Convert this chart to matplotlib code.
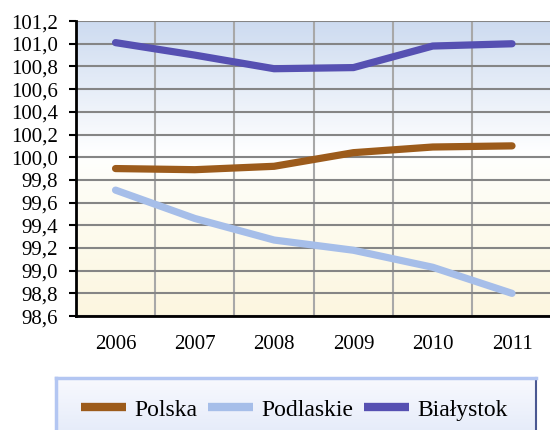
import matplotlib.pyplot as plt
import numpy as np
from matplotlib.colors import LinearSegmentedColormap

years = ['2006', '2007', '2008', '2009', '2010', '2011']
polska = [99.90, 99.89, 99.92, 100.04, 100.09, 100.10]
podlaskie = [99.71, 99.46, 99.27, 99.18, 99.03, 98.80]
bialystok = [101.01, 100.90, 100.78, 100.79, 100.98, 101.00]

plt.rcParams['font.family'] = 'serif'
plt.rcParams['font.serif'] = ['Liberation Serif', 'Times New Roman', 'DejaVu Serif']

fig = plt.figure(figsize=(5.5, 4.3), dpi=100)
ax = fig.add_axes([0.138, 0.265, 0.865, 0.686])

x = np.arange(len(years))
ymin, ymax = 98.6, 101.2

# background gradient: blue top -> white -> light yellow bottom
bg = LinearSegmentedColormap.from_list('bg', [(0.0, '#fcf6df'), (0.45, '#fefdf6'),
                                              (0.55, '#ffffff'), (1.0, '#cddbf0')])
grad = np.linspace(0, 1, 256).reshape(-1, 1)
ax.imshow(grad, cmap=bg, aspect='auto', origin='lower',
          extent=[-0.5, len(years) - 0.5, ymin, ymax], zorder=0)

ax.plot(x, polska, color='#9c5b1b', lw=5.2, solid_capstyle='round', label='Polska', zorder=3)
ax.plot(x, podlaskie, color='#a6bee9', lw=5.2, solid_capstyle='round', label='Podlaskie', zorder=3)
ax.plot(x, bialystok, color='#5650b2', lw=5.2, solid_capstyle='round', label='Białystok', zorder=3)

ax.set_xlim(-0.5, len(years) - 0.5)
ax.set_ylim(ymin, ymax)
ax.set_xticks(x)
ax.set_xticklabels(years)
ax.set_xticks(np.arange(-0.5, len(years), 1), minor=True)
yt = np.round(np.arange(ymin, ymax + 0.01, 0.2), 1)
ax.set_yticks(yt)
ax.set_yticklabels([('%.1f' % v).replace('.', ',') for v in yt])

ax.grid(True, axis='y', which='major', color='#858585', lw=1.5, zorder=1)
ax.grid(True, axis='x', which='minor', color='#a8a8a8', lw=1.5, zorder=1)
ax.tick_params(axis='y', direction='out', length=5, width=1.5, color='black',
               labelsize=15, pad=8)
ax.tick_params(axis='x', which='both', length=0, labelsize=15, pad=14)
for s in ['top', 'right']:
    ax.spines[s].set_visible(False)
for s in ['left', 'bottom']:
    ax.spines[s].set_linewidth(2)
    ax.spines[s].set_zorder(4)

# legend box with gradient
lax = fig.add_axes([0.102, -0.05, 0.872, 0.17])
lg = LinearSegmentedColormap.from_list('lg', ['#dfe7f8', '#f8f9fe'])
lax.imshow(grad, cmap=lg, aspect='auto', origin='lower', extent=[0, 1, 0, 1])
lax.set_xlim(0, 1)
lax.set_ylim(0, 1)
lax.set_xticks([])
lax.set_yticks([])
lax.spines['bottom'].set_visible(False)
for s in ['left', 'top']:
    lax.spines[s].set_color('#b3c6f2')
    lax.spines[s].set_linewidth(2.5)
lax.spines['right'].set_color('#4a5892')
lax.spines['right'].set_linewidth(1.5)

handles, labels = ax.get_legend_handles_labels()
fig.legend(handles, labels, loc='center', bbox_to_anchor=(0.535, 0.047), ncol=3,
           frameon=False, fontsize=17, handlelength=1.9, handletextpad=0.35,
           columnspacing=0.45)
for h in fig.legends[0].get_lines():
    h.set_linewidth(6)
    h.set_solid_capstyle('butt')

fig.savefig('out.png', dpi=100)
